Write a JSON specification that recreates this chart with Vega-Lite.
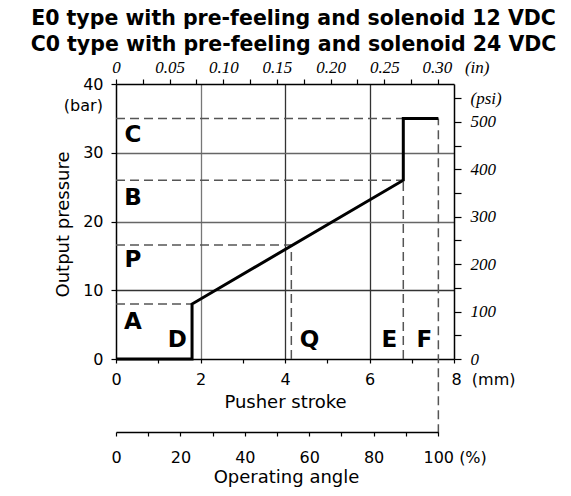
{
  "$schema": "https://vega.github.io/schema/vega-lite/v6.json",
  "padding": {"left": 30, "top": 8, "right": 5, "bottom": 5},
  "background": "white",
  "title": {
    "text": ["E0 type with pre-feeling and solenoid 12 VDC", "C0 type with pre-feeling and solenoid 24 VDC"],
    "font": "DejaVu Sans", "fontSize": 20.5, "fontWeight": "bold", "color": "black",
    "lineHeight": 26.7, "anchor": "middle", "offset": 2, "dx": 9
  },
  "datasets": {
    "curve": [
      {"i": 1, "mm": 0, "bar": 0},
      {"i": 2, "mm": 1.8, "bar": 0},
      {"i": 3, "mm": 1.8, "bar": 8},
      {"i": 4, "mm": 6.8, "bar": 26},
      {"i": 5, "mm": 6.8, "bar": 35},
      {"i": 6, "mm": 7.63, "bar": 35}
    ],
    "guides": [
      {"name": "C", "x1": 0, "x2": 6.8, "y1": 35, "y2": 35},
      {"name": "B", "x1": 0, "x2": 6.8, "y1": 26, "y2": 26},
      {"name": "P", "x1": 0, "x2": 4.15, "y1": 16.6, "y2": 16.6},
      {"name": "A", "x1": 0, "x2": 1.8, "y1": 8, "y2": 8},
      {"name": "Q", "x1": 4.15, "x2": 4.15, "y1": 0, "y2": 16.6},
      {"name": "E", "x1": 6.8, "x2": 6.8, "y1": 0, "y2": 26},
      {"name": "F", "x1": 7.63, "x2": 7.63, "y1": -10.8, "y2": 35}
    ],
    "letters": [
      {"t": "C", "mm": 0.4, "bar": 32.6},
      {"t": "B", "mm": 0.4, "bar": 23.4},
      {"t": "P", "mm": 0.4, "bar": 14.4},
      {"t": "A", "mm": 0.4, "bar": 5.4},
      {"t": "D", "mm": 1.45, "bar": 2.8},
      {"t": "Q", "mm": 4.58, "bar": 2.8},
      {"t": "E", "mm": 6.47, "bar": 2.8},
      {"t": "F", "mm": 7.3, "bar": 2.8}
    ],
    "units": [
      {"t": "(bar)", "mm": -0.31, "bar": 36.8}
    ],
    "inch": [{"inch": 0}, {"inch": 0.3}],
    "psi": [{"psi": 0}, {"psi": 500}],
    "pct": [{"pct": 0}, {"pct": 100}]
  },
  "vconcat": [
    {
      "width": 338,
      "height": 275,
      "layer": [
        {
          "layer": [
            {
              "data": {"name": "guides"},
              "mark": {"type": "rule", "strokeDash": [9, 5], "color": "#555", "strokeWidth": 1.5},
              "encoding": {
                "x": {"field": "x1", "type": "quantitative"},
                "x2": {"field": "x2"},
                "y": {"field": "y1", "type": "quantitative"},
                "y2": {"field": "y2"}
              }
            },
            {
              "data": {"name": "curve"},
              "mark": {"type": "line", "color": "black", "strokeWidth": 3, "strokeJoin": "miter"},
              "encoding": {
                "x": {
                  "field": "mm", "type": "quantitative",
                  "scale": {"domain": [0, 8], "nice": false},
                  "axis": {
                    "title": "Pusher stroke",
                    "values": [0, 1, 2, 3, 4, 5, 6, 7, 8],
                    "labelExpr": "datum.value == 8 ? '8\u00a0\u00a0(mm)' : (datum.value % 2 == 0 ? datum.label : '')",
                    "labelAlign": {"condition": {"test": "datum.value == 8", "value": "left"}, "value": "center"},
                    "labelOffset": {"condition": {"test": "datum.value == 8", "value": -3}, "value": 0},
                    "labelOverlap": false,
                    "grid": true,
                    "gridOpacity": {"condition": {"test": "datum.value == 2 || datum.value == 4 || datum.value == 6", "value": 1}, "value": 0},
                    "gridColor": {"condition": {"test": "datum.value == 2", "value": "#777"}, "value": "#333"},
                    "tickSize": 4,
                    "labelPadding": 8,
                    "titlePadding": 6
                  }
                },
                "y": {
                  "field": "bar", "type": "quantitative",
                  "scale": {"domain": [0, 40], "nice": false},
                  "axis": {
                    "title": "Output pressure",
                    "titleX": -44,
                    "titleY": 140,
                    "values": [0, 5, 10, 15, 20, 25, 30, 35, 40],
                    "labelExpr": "datum.value % 10 == 0 ? datum.label : ''",
                    "labelOverlap": false,
                    "grid": true,
                    "gridOpacity": {"condition": {"test": "datum.value == 10 || datum.value == 20 || datum.value == 30", "value": 1}, "value": 0},
                    "gridColor": {"condition": {"test": "datum.value == 10", "value": "#333"}, "value": "#666"},
                    "tickSize": 5,
                    "labelPadding": 8
                  }
                },
                "order": {"field": "i"}
              }
            },
            {
              "data": {"name": "letters"},
              "mark": {"type": "text", "font": "DejaVu Sans", "fontWeight": "bold", "fontSize": 23, "color": "black", "align": "center", "baseline": "middle"},
              "encoding": {
                "x": {"field": "mm", "type": "quantitative"},
                "y": {"field": "bar", "type": "quantitative"},
                "text": {"field": "t"}
              }
            },
            {
              "data": {"name": "units"},
              "mark": {"type": "text", "font": "DejaVu Sans", "fontSize": 16, "color": "black", "align": "right", "baseline": "middle"},
              "encoding": {
                "x": {"field": "mm", "type": "quantitative"},
                "y": {"field": "bar", "type": "quantitative"},
                "text": {"field": "t"}
              }
            }
          ]
        },
        {
          "data": {"name": "inch"},
          "mark": {"type": "rule", "opacity": 0},
          "encoding": {
            "x": {
              "field": "inch", "type": "quantitative",
              "scale": {"domain": [0, 0.31496], "nice": false},
              "axis": {
                "orient": "top",
                "title": null,
                "values": [0, 0.025, 0.05, 0.075, 0.1, 0.125, 0.15, 0.175, 0.2, 0.225, 0.25, 0.275, 0.3],
                "labelExpr": "datum.value == 0 ? '0' : (datum.value == 0.3 ? '0.30\u00a0\u00a0\u00a0(in)' : (abs(datum.value * 20 - round(datum.value * 20)) < 0.001 ? format(datum.value, '.2f') : ''))",
                "labelAlign": {"condition": {"test": "datum.value == 0.3", "value": "left"}, "value": "center"},
                "labelOffset": {"condition": {"test": "datum.value == 0.3", "value": -16}, "value": 0},
                "labelOverlap": false,
                "labelFont": "Liberation Serif",
                "labelFontStyle": "italic",
                "labelFontSize": 17,
                "tickSize": 5,
                "labelPadding": 3,
                "grid": false
              }
            }
          }
        },
        {
          "data": {"name": "psi"},
          "mark": {"type": "rule", "opacity": 0},
          "encoding": {
            "y": {
              "field": "psi", "type": "quantitative",
              "scale": {"domain": [0, 580.15], "nice": false},
              "axis": {
                "orient": "right",
                "title": null,
                "values": [0, 50, 100, 150, 200, 250, 300, 350, 400, 450, 500, 550],
                "labelExpr": "datum.value == 550 ? '(psi)' : (datum.value % 100 == 0 ? datum.label : '')",
                "labelOverlap": false,
                "labelFont": "Liberation Serif",
                "labelFontStyle": "italic",
                "labelFontSize": 17,
                "tickSize": 7,
                "labelPadding": 9,
                "grid": false
              }
            }
          }
        }
      ],
      "resolve": {
        "scale": {"x": "independent", "y": "independent"},
        "axis": {"x": "independent", "y": "independent"}
      }
    },
    {
      "width": 322,
      "height": 1,
      "data": {"name": "pct"},
      "mark": {"type": "rule", "opacity": 0},
      "encoding": {
        "x": {
          "field": "pct", "type": "quantitative",
          "scale": {"domain": [0, 100], "nice": false},
          "axis": {
            "title": "Operating angle",
            "values": [0, 10, 20, 30, 40, 50, 60, 70, 80, 90, 100],
            "labelExpr": "datum.value == 100 ? '100\u00a0(%)' : (datum.value % 20 == 0 ? datum.label : '')",
            "labelAlign": {"condition": {"test": "datum.value == 100", "value": "left"}, "value": "center"},
            "labelOffset": {"condition": {"test": "datum.value == 100", "value": -15}, "value": 0},
            "labelOverlap": false,
            "tickSize": 4,
            "labelPadding": 13,
            "titlePadding": 3,
            "titleX": 170,
            "grid": false
          }
        }
      }
    }
  ],
  "spacing": 72,
  "bounds": "flush",
  "config": {
    "view": {"stroke": null},
    "axis": {
      "labelFont": "DejaVu Sans",
      "labelFontSize": 16,
      "labelColor": "black",
      "titleFont": "DejaVu Sans",
      "titleFontSize": 18,
      "titleFontWeight": "normal",
      "titleColor": "black",
      "domainColor": "black",
      "domainWidth": 1.5,
      "tickColor": "black",
      "tickWidth": 1.2,
      "gridWidth": 1.3,
      "labelFlush": false
    }
  }
}
